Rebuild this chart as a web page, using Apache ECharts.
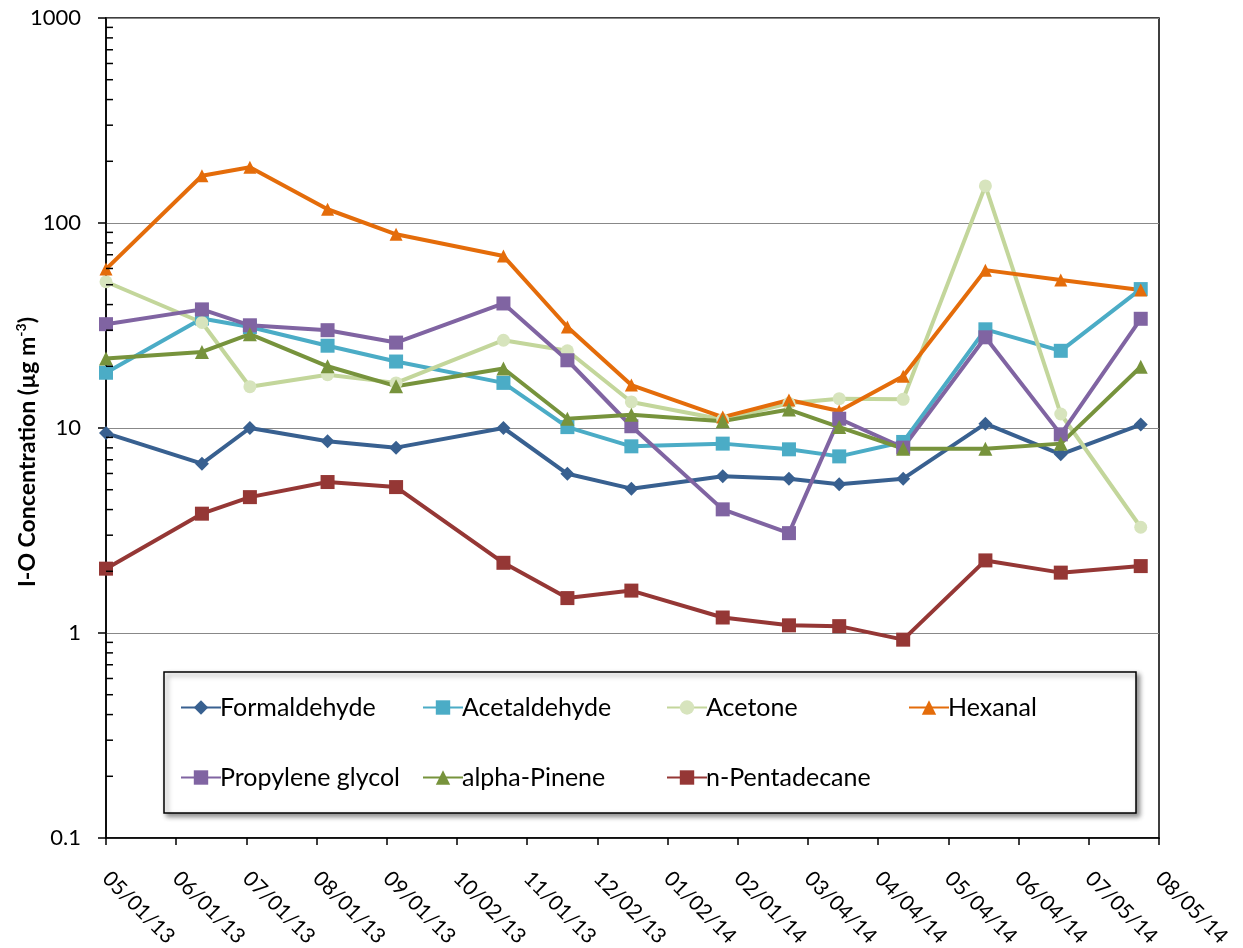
<!DOCTYPE html>
<html>
<head>
<meta charset="utf-8">
<script src="https://cdn.jsdelivr.net/npm/echarts@6/dist/echarts.min.js"></script>
<style>
  html, body { margin: 0; padding: 0; background: #fff; }
  #chart { width: 1243px; height: 948px; }
</style>
</head>
<body>
<div id="chart"></div>
<script>
// Sampling dates (indoor-outdoor campaign)
const sampleDates = ['2013-05-01','2013-06-12','2013-07-03','2013-08-06','2013-09-05','2013-10-22',
  '2013-11-19','2013-12-17','2014-01-26','2014-02-24','2014-03-18','2014-04-15','2014-05-21',
  '2014-06-23','2014-07-28'];

// Axis range and tick labels
const axisStart = '2013-05-01';
const axisEnd = '2014-08-05';
const tickLabels = ['05/01/13','06/01/13','07/01/13','08/01/13','09/01/13','10/02/13','11/01/13',
  '12/02/13','01/02/14','02/01/14','03/04/14','04/04/14','05/04/14','06/04/14','07/05/14','08/05/14'];

// I-O concentrations (µg m-3)
const formaldehyde   = [9.45, 6.70, 10.0, 8.61, 8.02, 10.0, 5.98, 5.06, 5.81, 5.66, 5.31, 5.66, 10.5, 7.44, 10.4];
const acetaldehyde   = [18.6, 34.2, 31.1, 25.2, 21.1, 16.6, 10.1, 8.14, 8.39, 7.87, 7.27, 8.55, 30.3, 23.8, 47.6];
const acetone        = [51.7, 32.7, 15.9, 18.2, 16.6, 26.8, 23.8, 13.4, 11.0, 13.2, 13.9, 13.8, 151.7, 11.7, 3.28];
const hexanal        = [59.6, 170, 187, 116.7, 88.1, 69.0, 31.1, 16.2, 11.3, 13.7, 12.1, 17.9, 58.9, 52.7, 47.1];
const propyleneGlycol= [32.1, 37.9, 31.7, 30.0, 26.1, 40.5, 21.4, 10.2, 4.01, 3.07, 11.1, 8.02, 27.7, 9.31, 34.1];
const alphaPinene    = [21.8, 23.5, 28.7, 20.0, 16.0, 19.5, 11.1, 11.6, 10.8, 12.3, 10.1, 7.93, 7.93, 8.39, 19.9];
const nPentadecane   = [2.06, 3.82, 4.60, 5.45, 5.15, 2.20, 1.48, 1.61, 1.19, 1.09, 1.08, 0.928, 2.26, 1.97, 2.12];

const FONT = 'Lato';
const t0 = Date.parse(axisStart);
const span = Date.parse(axisEnd) - t0;
const tickStep = span / (tickLabels.length - 1);
const xOf = d => Date.parse(d) - t0;

function pairs(vals) { return sampleDates.map((d, i) => [xOf(d), vals[i]]); }

const seriesDefs = [
  { name: 'Formaldehyde',     data: formaldehyde,    color: '#386090', fill: '#386090', symbol: 'diamond',  size: 14 },
  { name: 'Acetaldehyde',     data: acetaldehyde,    color: '#4BACC6', fill: '#4BACC6', symbol: 'rect',     size: 14 },
  { name: 'Acetone',          data: acetone,         color: '#C3D69B', fill: '#D7E4BD', symbol: 'circle',   size: 13 },
  { name: 'Hexanal',          data: hexanal,         color: '#E46C0A', fill: '#E46C0A', symbol: 'triangle', size: 13 },
  { name: 'Propylene glycol', data: propyleneGlycol, color: '#8064A2', fill: '#8064A2', symbol: 'rect',     size: 14 },
  { name: 'alpha-Pinene',     data: alphaPinene,     color: '#77933C', fill: '#77933C', symbol: 'triangle', size: 14 },
  { name: 'n-Pentadecane',    data: nPentadecane,    color: '#953735', fill: '#953735', symbol: 'rect',     size: 14 }
];

// Minor ticks of the log axis at 2..9 x 10^k
const minorTickValues = [];
[0.1, 1, 10, 100].forEach(base => { for (let k = 2; k <= 9; k++) minorTickValues.push(+(base * k).toPrecision(3)); });

const lineSeries = seriesDefs.map(s => ({
  name: s.name,
  type: 'line',
  data: pairs(s.data),
  symbol: s.symbol,
  symbolSize: s.size,
  showAllSymbol: true,
  lineStyle: { color: s.color, width: 4 },
  itemStyle: { color: s.fill, borderWidth: 0 },
  emphasis: { disabled: true },
  z: 3
}));

const minorTickSeries = {
  type: 'custom',
  silent: true,
  clip: false,
  data: minorTickValues.map(v => [0, v]),
  renderItem: function (params, api) {
    const p = api.coord([0, api.value(1)]);
    return {
      type: 'line',
      shape: { x1: p[0], y1: p[1], x2: p[0] + 7, y2: p[1] },
      style: { stroke: '#000', lineWidth: 1.5 }
    };
  },
  z: 4
};

// One legend block per entry, laid out in a 4-column grid
const legendCols = [175, 417, 661, 903];
const legendRows = [690, 760];
const legends = seriesDefs.map((s, i) => ({
  data: [s.name],
  left: legendCols[i % 4],
  top: legendRows[Math.floor(i / 4)],
  itemWidth: 40,
  itemHeight: 18,
  textStyle: { fontFamily: FONT, fontSize: 25, color: '#000', padding: [0, 0, 0, -6] },
  selectedMode: false,
  z: 5
}));

const chart = echarts.init(document.getElementById('chart'), null, { renderer: 'canvas' });
chart.setOption({
  animation: false,
  backgroundColor: '#fff',
  grid: {
    left: 106, right: 84, top: 18, bottom: 110,
    containLabel: false,
    outerBoundsMode: 'none',
    show: true, borderColor: '#000', borderWidth: 1.5, backgroundColor: 'transparent'
  },
  legend: legends,
  graphic: [{
    type: 'rect',
    shape: { x: 164, y: 672, width: 972, height: 141 },
    style: {
      fill: '#fff', stroke: '#000', lineWidth: 1.5,
      shadowBlur: 5, shadowOffsetX: 3, shadowOffsetY: 3, shadowColor: 'rgba(0,0,0,0.45)'
    },
    z: 1
  }],
  xAxis: {
    type: 'value',
    min: 0,
    max: span,
    interval: tickStep,
    axisLine: { show: true, lineStyle: { color: '#000', width: 1.5 } },
    axisTick: { show: true, inside: false, length: 7, lineStyle: { color: '#000', width: 1.5 } },
    splitLine: { show: false },
    axisLabel: {
      rotate: -45,
      margin: 37,
      fontFamily: FONT,
      fontSize: 21,
      color: '#000',
      formatter: v => tickLabels[Math.round(v / tickStep)] || ''
    }
  },
  yAxis: {
    type: 'log',
    logBase: 10,
    min: 0.1,
    max: 1000,
    name: '{b|I-O Concentration (µg m}{sup|-3}{b|)}',
    nameLocation: 'middle',
    nameGap: 64,
    nameMoveOverlap: false,
    nameTextStyle: {
      padding: [0, 48, 0, 0],
      rich: {
        b: { fontFamily: FONT, fontSize: 23, fontWeight: 'bold', color: '#000', lineHeight: 28 },
        sup: { fontFamily: FONT, fontSize: 14, fontWeight: 'bold', color: '#000', verticalAlign: 'top', lineHeight: 28 }
      }
    },
    axisLine: { show: true, lineStyle: { color: '#000', width: 1.5 } },
    axisTick: { show: true, inside: false, length: 8, lineStyle: { color: '#000', width: 1.5 } },
    minorTick: { show: false },
    splitLine: { show: true, lineStyle: { color: '#888', width: 1.2 } },
    axisLabel: {
      margin: 25,
      fontFamily: FONT,
      fontSize: 22,
      color: '#000',
      formatter: v => String(+v.toPrecision(3))
    }
  },
  series: lineSeries.concat([minorTickSeries])
});
</script>
</body>
</html>
